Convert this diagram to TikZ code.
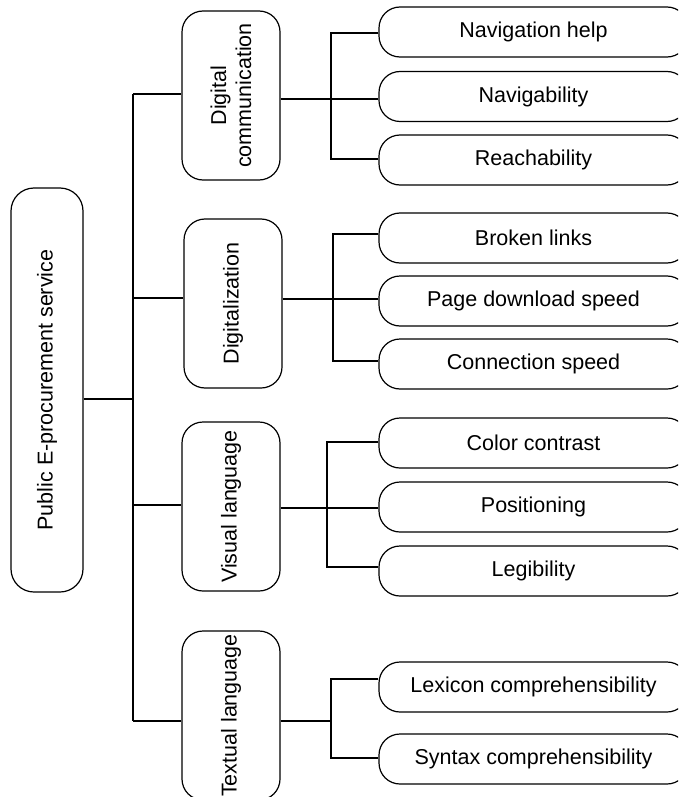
\documentclass[tikz,border=0pt]{standalone}
\usepackage{fontspec}
\setmainfont{Liberation Sans}
\begin{document}
\begin{tikzpicture}[x=1pt,y=-1pt,
  box/.style={draw, line width=1.2pt, rounded corners=21pt, inner sep=0pt,
    font=\fontsize{21.5}{25}\selectfont, align=center},
  leaf/.style={box, rounded corners=21pt, minimum width=309pt, minimum height=50pt},
  mid/.style={box, rotate=90, minimum width=169pt, minimum height=98pt},
  conn/.style={line width=1.2pt}]
\useasboundingbox (0,0) rectangle (678,797);
\clip (0,0) rectangle (678,797);
% root
\node[box, rotate=90, rounded corners=23pt, minimum width=404pt, minimum height=72pt] (root) at (47,390) {Public E-procurement service};
% middle boxes
\node[mid] (m1) at (231,95.5) {Digital\\communication};
\node[mid] (m2) at (233,303.5) {Digitalization};
\node[mid] (m3) at (231,506.5) {Visual language};
\node[mid] (m4) at (231,715.5) {Textual language};
% leaves
\node[leaf] (l11) at (533.5,32) {Navigation help};
\node[leaf] (l12) at (533.5,96.5) {Navigability};
\node[leaf] (l13) at (533.5,160) {Reachability};
\node[leaf] (l21) at (533.5,238) {Broken links};
\node[leaf] (l22) at (533.5,301) {Page download speed};
\node[leaf] (l23) at (533.5,364) {Connection speed};
\node[leaf] (l31) at (533.5,443) {Color contrast};
\node[leaf] (l32) at (533.5,507) {Positioning};
\node[leaf] (l33) at (533.5,571) {Legibility};
\node[leaf] (l41) at (533.5,687) {Lexicon comprehensibility};
\node[leaf] (l42) at (533.5,759) {Syntax comprehensibility};
% junction coordinates
\coordinate (r0) at (133,399);
\coordinate (b1) at (133,94);
\coordinate (b2) at (133,298);
\coordinate (b3) at (133,505);
\coordinate (b4) at (133,721);
\coordinate (t1) at (331,33);  \coordinate (j1) at (331,99);  \coordinate (u1) at (331,159);
\coordinate (t2) at (333,234); \coordinate (j2) at (333,299); \coordinate (u2) at (333,361);
\coordinate (t3) at (327,442); \coordinate (j3) at (327,508); \coordinate (u3) at (327,567);
\coordinate (t4) at (331,679); \coordinate (j4) at (331,721); \coordinate (u4) at (331,758);
% root to bus
\draw[conn] (root.south |- r0) -- (r0);
\draw[conn] (b1) -- (b4);
\draw[conn] (b1) -- (m1.north |- b1);
\draw[conn] (b2) -- (m2.north |- b2);
\draw[conn] (b3) -- (m3.north |- b3);
\draw[conn] (b4) -- (m4.north |- b4);
% group 1
\draw[conn] (l11.west |- t1) -- (t1) -- (u1) -- (l13.west |- u1);
\draw[conn] (m1.south |- j1) -- (l12.west |- j1);
% group 2
\draw[conn] (l21.west |- t2) -- (t2) -- (u2) -- (l23.west |- u2);
\draw[conn] (m2.south |- j2) -- (l22.west |- j2);
% group 3
\draw[conn] (l31.west |- t3) -- (t3) -- (u3) -- (l33.west |- u3);
\draw[conn] (m3.south |- j3) -- (l32.west |- j3);
% group 4
\draw[conn] (l41.west |- t4) -- (t4) -- (u4) -- (l42.west |- u4);
\draw[conn] (m4.south |- j4) -- (j4);
\end{tikzpicture}
\end{document}
